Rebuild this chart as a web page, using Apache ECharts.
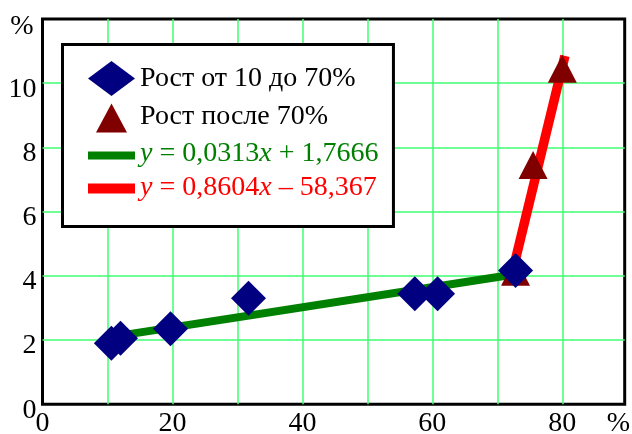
<!DOCTYPE html>
<html><head><meta charset="utf-8">
<script src="https://cdn.jsdelivr.net/npm/echarts@6/dist/echarts.min.js"></script>
<style>html,body{margin:0;padding:0;background:#fff}#c{width:632px;height:434px}</style>
</head><body><div id="c"></div>
<script>
const growthEarly = [[10.6,1.9],[12.0,2.06],[19.7,2.35],[31.7,3.3],[57.3,3.44],[60.8,3.44],[72.8,4.17]];
const growthLate = [[72.8,4.13],[75.5,7.45],[80.0,10.45]];
const fitEarly = [[10.6,2.1],[72.8,4.05]];
const fitLate = [[72.6,4.35],[80.4,10.85]];
const seriesNames = ['Рост от 10 до 70%','Рост после 70%','y = 0,0313x + 1,7666','y = 0,8604x – 58,367'];
const legendLabels = ['Рост от 10 до 70%','Рост после 70%','{i|y} = 0,0313{i|x} + 1,7666','{i|y} = 0,8604{i|x} – 58,367'];
const xTickLabels = ['0','','20','','40','','60','','80'];
const yTickLabels = ['0','2','4','6','8','10','%'];
const xUnit = '%';

const FONT = "Liberation Serif";
const chart = echarts.init(document.getElementById('c'), null, {renderer:'canvas'});
const gridGreen = '#40ff70';
chart.setOption({
  animation:false,
  backgroundColor:'#fff',
  grid:{left:42.5,top:19,right:7.3,bottom:29.7,containLabel:false,outerBoundsMode:'none',show:true,borderColor:'#000',borderWidth:3,backgroundColor:'transparent'},
  xAxis:{type:'value',min:0,max:89.6,interval:10,
    name:xUnit,nameLocation:'end',nameGap:-18,
    nameTextStyle:{fontSize:28,fontFamily:FONT,color:'#000',verticalAlign:'top',padding:[5,0,0,0]},
    axisLine:{show:false},axisTick:{show:false},
    axisLabel:{fontSize:28,fontFamily:FONT,color:'#000',margin:5,showMinLabel:true,
      formatter:v=>{const i=Math.round(v/10);return Math.abs(v-i*10)<1e-6&&xTickLabels[i]!==undefined?xTickLabels[i]:'';}},
    splitLine:{show:true,showMinLine:false,showMaxLine:false,lineStyle:{color:gridGreen,width:1.5}}},
  yAxis:{type:'value',min:0,max:12,interval:2,
    axisLine:{show:false},axisTick:{show:false},
    axisLabel:{fontSize:28,fontFamily:FONT,color:'#000',margin:6,showMinLabel:true,showMaxLabel:true,
      formatter:v=>{const i=Math.round(v/2);const t=yTickLabels[i];if(t===undefined)return '';return t==='%'?'{p|'+t+'}':'{n|'+t+'}';},
      rich:{n:{fontSize:28,fontFamily:FONT,color:'#000',padding:[12,0,0,0]},p:{fontSize:28,fontFamily:FONT,color:'#000',padding:[16,3,0,0]}}},
    splitLine:{show:true,showMinLine:false,showMaxLine:false,lineStyle:{color:gridGreen,width:1.5}}},
  legend:{
    show:true,orient:'vertical',left:62.5,top:44.5,
    padding:[9.5,15,21.5,25.5],
    itemWidth:47,itemHeight:35,itemGap:-6,
    backgroundColor:'#fff',borderColor:'#000',borderWidth:3,borderRadius:0,
    selectedMode:false,
    textStyle:{fontSize:28,fontFamily:FONT,color:'#000',rich:{i:{fontStyle:'italic',fontSize:28,fontFamily:FONT}}},
    formatter:name=>legendLabels[seriesNames.indexOf(name)],
    data:[
      {name:seriesNames[0],icon:'diamond',itemStyle:{color:'#000080',opacity:1},textStyle:{lineHeight:49}},
      {name:seriesNames[1],icon:'path://M0,0M36,35M2.5,33L18,4L33.5,33Z',itemStyle:{color:'#800000',opacity:1},textStyle:{lineHeight:40}},
      {name:seriesNames[2],icon:'path://M0,0M47,35M0,15.5L47,15.5L47,23.5L0,23.5Z',itemStyle:{color:'#008000',opacity:1},textStyle:{lineHeight:45,color:'#008000'}},
      {name:seriesNames[3],icon:'path://M0,0M47,35M0,13.5L47,13.5L47,23.5L0,23.5Z',itemStyle:{color:'#ff0000',opacity:1},textStyle:{lineHeight:35,color:'#ff0000'}}
    ]
  },
  series:[
    {name:seriesNames[2],type:'line',data:fitEarly,symbol:'none',lineStyle:{color:'#008000',width:8,cap:'butt'},itemStyle:{color:'#008000'},z:2},
    {name:seriesNames[3],type:'line',data:fitLate,symbol:'none',lineStyle:{color:'#ff0000',width:9.5,cap:'butt'},itemStyle:{color:'#ff0000'},z:3},
    {name:seriesNames[1],type:'scatter',data:growthLate,symbol:'triangle',symbolSize:[29,28],itemStyle:{color:'#800000',opacity:1},z:4},
    {name:seriesNames[0],type:'scatter',data:growthEarly,symbol:'diamond',symbolSize:35,itemStyle:{color:'#000080',opacity:1},z:5}
  ]
});
</script></body></html>
